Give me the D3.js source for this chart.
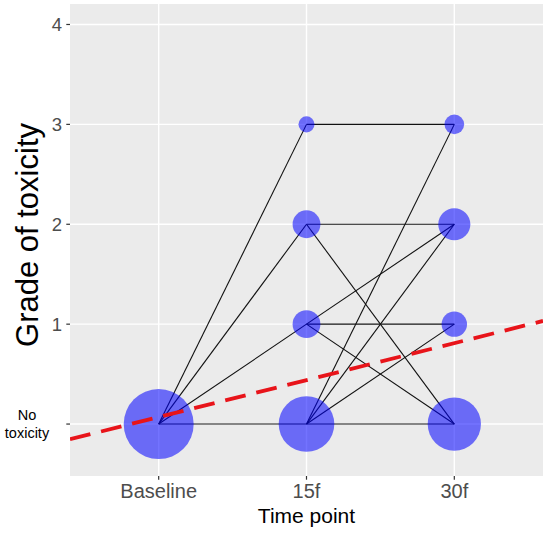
<!DOCTYPE html>
<html>
<head>
<meta charset="utf-8">
<script src="https://cdn.jsdelivr.net/npm/d3@7"></script>
<style>
  body { margin: 0; background: #fff; }
  svg { display: block; font-family: "Liberation Sans", Arial, sans-serif; }
</style>
</head>
<body>
<svg id="chart" width="550" height="533"></svg>
<script>
// ---- data ----
const timepoints = ["Baseline", "15f", "30f"];
const gradeTicks = [0, 1, 2, 3, 4];
const gradeTickLabels = ["No\ntoxicity", "1", "2", "3", "4"];

// node (bubble) data: time point, grade, number of patients
const nodeTime  = ["Baseline", "15f", "15f", "15f", "15f", "30f", "30f", "30f", "30f"];
const nodeGrade = [0, 0, 1, 2, 3, 0, 1, 2, 3];
const nodeCount = [38, 24, 6, 6, 2, 22, 5, 8, 3];

// transitions between time points
const edgeFromTime  = ["Baseline", "Baseline", "Baseline", "Baseline", "15f", "15f", "15f", "15f", "15f", "15f", "15f", "15f", "15f", "15f"];
const edgeToTime    = ["15f", "15f", "15f", "15f", "30f", "30f", "30f", "30f", "30f", "30f", "30f", "30f", "30f", "30f"];
const edgeFromGrade = [0, 0, 0, 0, 3, 2, 2, 1, 1, 1, 0, 0, 0, 0];
const edgeToGrade   = [0, 1, 2, 3, 3, 2, 0, 1, 2, 0, 0, 1, 2, 3];

// trend line (dashed red): y = intercept + slope * x (x = time index starting at 1)
const trendIntercept = -0.30;
const trendSlope = 0.37;

// ---- layout ----
const svg = d3.select("#chart");
const panel = { left: 70, right: 543, top: 4, bottom: 476 };

const x = d3.scalePoint().domain(timepoints).range([panel.left, panel.right]).padding(0.6);
const xNum = d3.scaleLinear().domain([1, timepoints.length]).range([x(timepoints[0]), x(timepoints[timepoints.length - 1])]);
const y = d3.scaleLinear().domain([-0.52, 4.205]).range([panel.bottom, panel.top]);
const r = d3.scaleSqrt().domain([0, d3.max(nodeCount)]).range([0, 35]);

// panel background
svg.append("rect")
  .attr("x", panel.left).attr("y", panel.top)
  .attr("width", panel.right - panel.left).attr("height", panel.bottom - panel.top)
  .attr("fill", "#EBEBEB");

svg.append("clipPath").attr("id", "clip")
  .append("rect")
  .attr("x", panel.left).attr("y", panel.top)
  .attr("width", panel.right - panel.left).attr("height", panel.bottom - panel.top);

// gridlines
const grid = svg.append("g");
grid.selectAll("line.h").data(gradeTicks).join("line")
  .attr("x1", panel.left).attr("x2", panel.right)
  .attr("y1", d => y(d)).attr("y2", d => y(d))
  .attr("stroke", "#fff").attr("stroke-width", 1.4);
grid.selectAll("line.v").data(timepoints).join("line")
  .attr("y1", panel.top).attr("y2", panel.bottom)
  .attr("x1", d => x(d)).attr("x2", d => x(d))
  .attr("stroke", "#fff").attr("stroke-width", 1.4);

const plot = svg.append("g").attr("clip-path", "url(#clip)");

// transition lines
const edges = edgeFromTime.map((t, i) => ({
  x1: x(t), y1: y(edgeFromGrade[i]), x2: x(edgeToTime[i]), y2: y(edgeToGrade[i])
}));
plot.selectAll("line.edge").data(edges).join("line")
  .attr("class", "edge")
  .attr("x1", d => d.x1).attr("y1", d => d.y1)
  .attr("x2", d => d.x2).attr("y2", d => d.y2)
  .attr("stroke", "#111").attr("stroke-width", 1.1);

// bubbles
const nodes = nodeTime.map((t, i) => ({ t, g: nodeGrade[i], n: nodeCount[i] }));
plot.selectAll("circle").data(nodes).join("circle")
  .attr("cx", d => x(d.t)).attr("cy", d => y(d.g)).attr("r", d => r(d.n))
  .attr("fill", "#0000FF").attr("fill-opacity", 0.55);

// trend line
const x0 = xNum.invert(panel.left), x1 = xNum.invert(panel.right);
plot.append("line")
  .attr("x1", xNum(x0)).attr("y1", y(trendIntercept + trendSlope * x0))
  .attr("x2", xNum(x1)).attr("y2", y(trendIntercept + trendSlope * x1))
  .attr("stroke", "#E8141A").attr("stroke-width", 3.8)
  .attr("stroke-dasharray", "21 11");

// y axis ticks and labels
const yAxis = svg.append("g");
yAxis.selectAll("line").data(gradeTicks).join("line")
  .attr("x1", panel.left - 3.7).attr("x2", panel.left)
  .attr("y1", d => y(d)).attr("y2", d => y(d))
  .attr("stroke", "#333").attr("stroke-width", 1.2);
gradeTicks.forEach((g, i) => {
  const lab = gradeTickLabels[i];
  if (lab.includes("\n")) {
    const parts = lab.split("\n");
    const t = yAxis.append("text")
      .attr("x", 27).attr("y", y(g))
      .attr("text-anchor", "middle")
      .attr("font-size", 14.5).attr("fill", "#000");
    parts.forEach((p, k) => {
      t.append("tspan").attr("x", 27)
        .attr("dy", k === 0 ? (-(parts.length - 1) / 2 * 1.25 + 0.35) + "em" : "1.25em")
        .text(p);
    });
  } else {
    yAxis.append("text")
      .attr("x", panel.left - 8).attr("y", y(g))
      .attr("dy", "0.36em")
      .attr("text-anchor", "end")
      .attr("font-size", 18.5).attr("fill", "#4D4D4D")
      .text(lab);
  }
});

// x axis ticks and labels
const xAxis = svg.append("g");
xAxis.selectAll("line").data(timepoints).join("line")
  .attr("x1", d => x(d)).attr("x2", d => x(d))
  .attr("y1", panel.bottom).attr("y2", panel.bottom + 3.7)
  .attr("stroke", "#333").attr("stroke-width", 1.2);
xAxis.selectAll("text").data(timepoints).join("text")
  .attr("x", d => x(d)).attr("y", 498)
  .attr("text-anchor", "middle")
  .attr("font-size", 20).attr("fill", "#4D4D4D")
  .text(d => d);

// axis titles
svg.append("text")
  .attr("x", (panel.left + panel.right) / 2).attr("y", 523)
  .attr("text-anchor", "middle")
  .attr("font-size", 21).attr("fill", "#000")
  .text("Time point");

svg.append("text")
  .attr("transform", `translate(38, ${(panel.top + panel.bottom) / 2 - 5}) rotate(-90)`)
  .attr("text-anchor", "middle")
  .attr("font-size", 31).attr("fill", "#000")
  .text("Grade of toxicity");
</script>
</body>
</html>
